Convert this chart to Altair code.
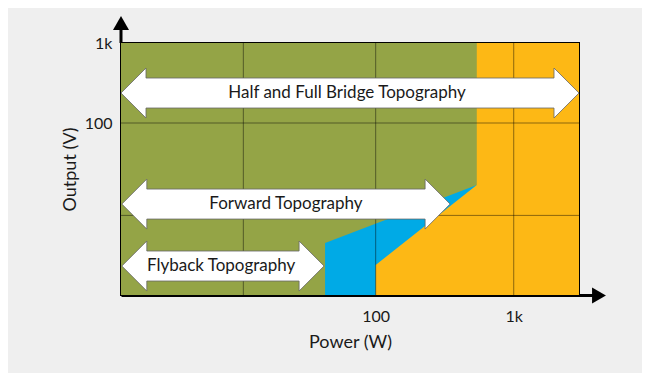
import altair as alt
import pandas as pd

# ---- data (log-log axes) ----
X_DOMAIN = [1.43, 2970]          # Power (W)
Y_DOMAIN = [0.708, 1000]         # Output (V)
X_TICKS = [100, 1000]
Y_TICKS = [100, 1000]
GRID_X = [11, 100, 1000]
GRID_Y = [7, 100]

BLUE_X = [43, 540]
BLUE_TOP = [3.16, 16.8]

ORANGE_X = [100, 540, 540, 2970]
ORANGE_TOP = [1.68, 16.8, 1000, 1000]

ARROW_NAMES = ["Half and Full Bridge Topography", "Forward Topography", "Flyback Topography"]
ARROW_LEFT = [1.43, 1.45, 1.45]
ARROW_RIGHT = [2970, 346, 42.3]
ARROW_Y = [237, 9.7, 1.63]
ARROW_LABEL_X = [62, 22.4, 7.6]

# ---- styling ----
GREEN = "#94a446"
ORANGE = "#fdb815"
BLUE = "#00aae6"
BG = "#efefef"
FONT = "Lato"
W, H = 458, 252
HEAD_X = 10 ** (25 / 138.1)   # arrow head length (log factor)
HEAD_Y = 10 ** (25 / 80)      # arrow head half height
BODY_Y = 10 ** (15 / 80)      # arrow body half height

xs = alt.Scale(type="log", domain=X_DOMAIN, nice=False)
ys = alt.Scale(type="log", domain=Y_DOMAIN, nice=False)

green_df = pd.DataFrame({"px": X_DOMAIN, "top": [Y_DOMAIN[1]] * 2, "bot": [Y_DOMAIN[0]] * 2})
blue_df = pd.DataFrame({"px": BLUE_X, "top": BLUE_TOP, "bot": [Y_DOMAIN[0]] * 2})
orange_df = pd.DataFrame({"px": ORANGE_X, "top": ORANGE_TOP, "bot": [Y_DOMAIN[0]] * 4})

rows = []
for name, L, R, c in zip(ARROW_NAMES, ARROW_LEFT, ARROW_RIGHT, ARROW_Y):
    Lb, Rb = L * HEAD_X, R / HEAD_X
    pts = [(L, c, c), (Lb, c * HEAD_Y, c / HEAD_Y), (Lb, c * BODY_Y, c / BODY_Y),
           (Rb, c * BODY_Y, c / BODY_Y), (Rb, c * HEAD_Y, c / HEAD_Y), (R, c, c)]
    for (px, yt, yb) in pts:
        rows.append({"name": name, "px": px, "top": yt, "bot": yb})
arrow_df = pd.DataFrame(rows)
label_df = pd.DataFrame({"name": ARROW_NAMES, "px": ARROW_LABEL_X, "top": ARROW_Y})

TXT = "#1a1a1a"


def region(df, color, with_axes=False):
    if with_axes:
        xenc = alt.X("px:Q", scale=xs, title="Power (W)",
                     axis=alt.Axis(values=X_TICKS, grid=False, ticks=False,
                                   labelExpr="datum.value >= 1000 ? '1k' : '100'",
                                   domainColor="black", domainWidth=3,
                                   labelFontSize=16, labelFont=FONT, labelColor=TXT,
                                   labelPadding=13, titleFontSize=18, titleFont=FONT,
                                   titleFontWeight="normal", titleColor=TXT,
                                   titlePadding=9, labelFlush=False))
        yenc = alt.Y("top:Q", scale=ys, title="Output (V)", stack=None,
                     axis=alt.Axis(values=Y_TICKS, grid=False, ticks=False,
                                   labelExpr="datum.value >= 1000 ? '1k' : '100'",
                                   domainColor="black", domainWidth=3,
                                   labelFontSize=16, labelFont=FONT, labelColor=TXT,
                                   labelPadding=9, titleFontSize=18, titleFont=FONT,
                                   titleFontWeight="normal", titleColor=TXT,
                                   titlePadding=5, labelFlush=False))
    else:
        xenc = alt.X("px:Q", scale=xs)
        yenc = alt.Y("top:Q", scale=ys, stack=None)
    return alt.Chart(df).mark_area(color=color, opacity=1, interpolate="linear",
                                   orient="vertical").encode(
        x=xenc, y=yenc, y2=alt.Y2("bot"))


green = region(green_df, GREEN, with_axes=True)
blue = region(blue_df, BLUE)
orange = region(orange_df, ORANGE)

grid_x = alt.Chart(pd.DataFrame({"px": GRID_X})).mark_rule(color="black", opacity=0.45, strokeWidth=1).encode(
    x=alt.X("px:Q", scale=xs))
grid_y = alt.Chart(pd.DataFrame({"top": GRID_Y})).mark_rule(color="black", opacity=0.45, strokeWidth=1).encode(
    y=alt.Y("top:Q", scale=ys))

arrows = alt.Chart(arrow_df).mark_area(color="white", stroke="#666666", strokeWidth=0.8,
                                      interpolate="linear", opacity=1, orient="vertical").encode(
    x=alt.X("px:Q", scale=xs), y=alt.Y("top:Q", scale=ys, stack=None), y2=alt.Y2("bot"),
    detail="name:N")

labels = alt.Chart(label_df).mark_text(font=FONT, fontSize=17, color=TXT,
                                      align="center", baseline="middle").encode(
    x=alt.X("px:Q", scale=xs), y=alt.Y("top:Q", scale=ys), text="name:N")

# axis arrow decorations
yext = alt.Chart(pd.DataFrame({"a": [0]})).mark_rule(color="black", strokeWidth=3).encode(
    x=alt.value(0), y=alt.value(-14), y2=alt.value(0))
yhead = alt.Chart(pd.DataFrame({"a": [0]})).mark_point(shape="triangle-up", filled=True, size=256,
                                                     color="black", opacity=1).encode(
    x=alt.value(0), y=alt.value(-20))
xext = alt.Chart(pd.DataFrame({"a": [0]})).mark_rule(color="black", strokeWidth=3).encode(
    x=alt.value(W), x2=alt.value(W + 14), y=alt.value(H + 0.5))
xhead = alt.Chart(pd.DataFrame({"a": [0]})).mark_point(shape="triangle-right", filled=True, size=256,
                                                     color="black", opacity=1).encode(
    x=alt.value(W + 20), y=alt.value(H + 0.5))

chart = alt.layer(green, blue, orange, grid_x, grid_y, arrows, labels, yext, yhead, xext, xhead).properties(
    width=W, height=H,
    autosize=alt.AutoSizeParams(type="none"),
    padding={"left": 113, "top": 35, "right": 63, "bottom": 78},
    background=BG,
).configure_view(stroke="black", strokeWidth=2)

chart.save("out.html", embed_options={"renderer": "svg", "actions": False})
